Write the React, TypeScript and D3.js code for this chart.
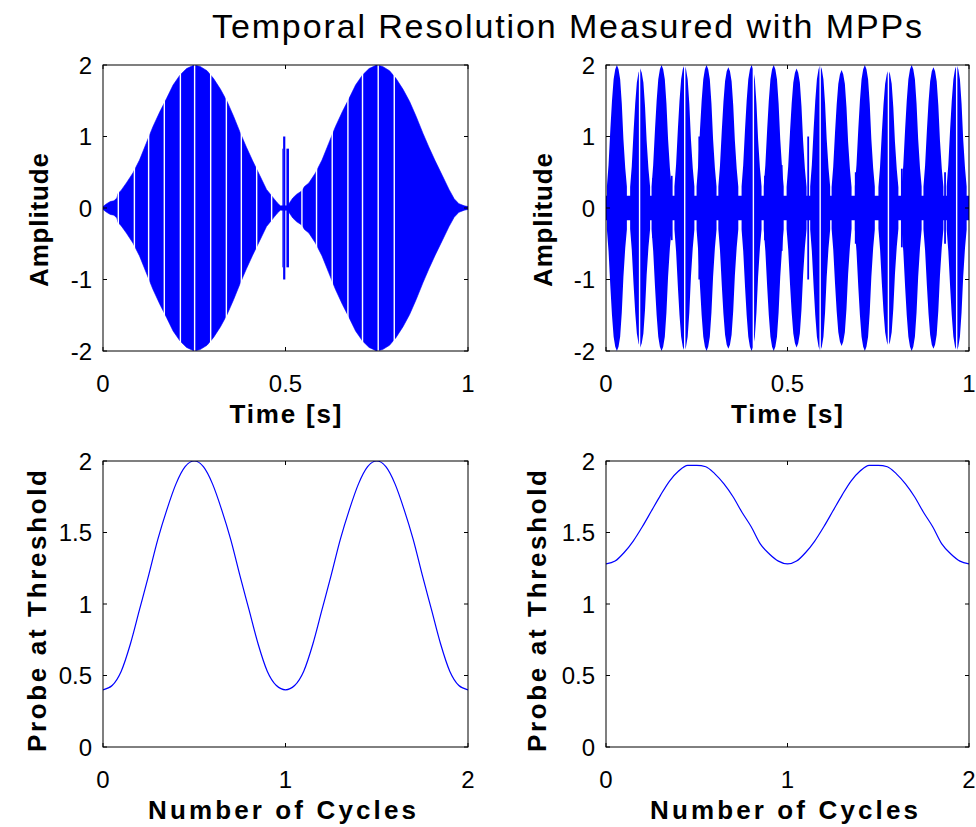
import React from 'react';
import * as d3 from 'd3';

// ---------- Top-left: amplitude envelope ----------
const tlEnvT = [0.000, 0.010, 0.020, 0.030, 0.038, 0.041, 0.050, 0.064, 0.082, 0.100, 0.118, 0.137, 0.156, 0.174, 0.192, 0.211, 0.229, 0.250, 0.266, 0.285, 0.303, 0.322, 0.340, 0.358, 0.377, 0.393, 0.410, 0.430, 0.448, 0.462, 0.470, 0.478, 0.486,
  0.506, 0.512, 0.520, 0.530, 0.545, 0.552, 0.564, 0.582, 0.600, 0.618, 0.637, 0.656, 0.674, 0.692, 0.711, 0.729, 0.750, 0.766, 0.785, 0.803, 0.822, 0.840, 0.858, 0.877, 0.893, 0.910, 0.930, 0.948, 0.962, 0.975, 0.990, 1.000];
const tlEnvA = [0.02, 0.06, 0.09, 0.10, 0.14, 0.20, 0.25, 0.35, 0.49, 0.67, 0.90, 1.14, 1.35, 1.53, 1.72, 1.86, 1.95, 2.00, 1.98, 1.92, 1.81, 1.66, 1.49, 1.28, 1.04, 0.85, 0.66, 0.45, 0.26, 0.17, 0.12, 0.07, 0.03,
  0.03, 0.08, 0.14, 0.19, 0.24, 0.30, 0.35, 0.49, 0.67, 0.90, 1.14, 1.35, 1.53, 1.72, 1.86, 1.95, 2.00, 1.98, 1.92, 1.81, 1.66, 1.49, 1.28, 1.04, 0.85, 0.66, 0.45, 0.26, 0.13, 0.06, 0.03, 0.02];
const tlGapT = [0.042, 0.086, 0.125, 0.168, 0.212, 0.251, 0.295, 0.338, 0.379, 0.421, 0.462, 0.545, 0.585, 0.628, 0.671, 0.711, 0.754, 0.798];
const tlBlipStart = [0.4915, 0.4935, 0.5025];
const tlBlipEnd = [0.4935, 0.4995, 0.5095];
const tlBlipAmp = [0.83, 1.0, 0.83];

// ---------- Top-right: beating signal ----------
const trBurstT = [0.030, 0.094, 0.153, 0.216, 0.277, 0.337, 0.401, 0.462, 0.525, 0.590, 0.649, 0.713, 0.778, 0.842, 0.902, 0.966];
const trBurstPeak = [2.0, 1.95, 2.0, 2.0, 2.0, 1.97, 2.0, 2.0, 1.95, 2.0, 1.93, 2.0, 1.93, 2.0, 1.97, 2.0];
const trProfileDt = [-0.0275, -0.023, -0.018, -0.0135, -0.009, -0.0045, 0, 0.0045, 0.009, 0.0135, 0.018, 0.023, 0.0275];
const trProfileF = [0.15, 0.3, 0.55, 0.75, 0.9, 0.97, 1.0, 0.97, 0.9, 0.73, 0.48, 0.28, 0.15];
const trFloorT = [0, 1];
const trFloorA = [0.17, 0.17];
const trGapT = [0.0925, 0.2168, 0.406, 0.590, 0.778, 0.966];
const trSpikeT = [0.130, 0.181, 0.257, 0.438, 0.484, 0.557, 0.688, 0.815, 0.934];
const trSpikeA = [0.42, 0.45, 1.0, 0.45, 0.6, 1.0, 0.5, 0.55, 0.5];

// ---------- Bottom: probe at threshold vs number of cycles ----------
const cycles = [0, 0.05, 0.1, 0.15, 0.2, 0.25, 0.3, 0.35, 0.4, 0.45, 0.5, 0.55, 0.6, 0.65, 0.7, 0.75, 0.8, 0.85, 0.9, 0.95,
  1, 1.05, 1.1, 1.15, 1.2, 1.25, 1.3, 1.35, 1.4, 1.45, 1.5, 1.55, 1.6, 1.65, 1.7, 1.75, 1.8, 1.85, 1.9, 1.95, 2];
const probeLeft = [0.40, 0.43, 0.53, 0.72, 0.96, 1.20, 1.45, 1.66, 1.84, 1.96, 2.00, 1.96, 1.84, 1.66, 1.45, 1.20, 0.96, 0.72, 0.53, 0.43,
  0.40, 0.43, 0.53, 0.72, 0.96, 1.20, 1.45, 1.66, 1.84, 1.96, 2.00, 1.96, 1.84, 1.66, 1.45, 1.20, 0.96, 0.72, 0.53, 0.43, 0.40];
const probeRight = [1.28, 1.30, 1.36, 1.44, 1.54, 1.65, 1.76, 1.86, 1.93, 1.97, 1.97, 1.96, 1.91, 1.84, 1.75, 1.64, 1.54, 1.42, 1.35, 1.30,
  1.28, 1.30, 1.36, 1.44, 1.54, 1.65, 1.76, 1.86, 1.93, 1.97, 1.97, 1.96, 1.91, 1.84, 1.75, 1.64, 1.54, 1.42, 1.35, 1.30, 1.28];

const topXTicks = [0, 0.5, 1];
const topYTicks = [-2, -1, 0, 1, 2];
const botXTicks = [0, 1, 2];
const botYTicks = [0, 0.5, 1, 1.5, 2];

const TITLE = 'Temporal Resolution Measured with MPPs';
const BLUE = '#0000ff';
const FONT = '"Liberation Sans", Arial, Helvetica, sans-serif';

type Box = { x0: number; x1: number; y0: number; y1: number };

// Text fitted to a measured width
function FitText(props: { x: number; y: number; text: string; size: number; width: number; bold?: boolean; rot?: number }) {
  const { x, y, text, size, width, bold, rot } = props;
  return (
    <text transform={`translate(${x},${y}) rotate(${rot || 0})`} textAnchor="middle" fontSize={size}
      fontWeight={bold ? 'bold' : 'normal'} fontFamily={FONT} textLength={width} lengthAdjust="spacing">{text}</text>
  );
}

function Axes(props: {
  id: string; box: Box; x: d3.ScaleLinear<number, number>; y: d3.ScaleLinear<number, number>;
  xTicks: number[]; yTicks: number[]; xLabel: string; yLabel: string;
  xLabelLen: number; yLabelLen: number; yLabelX: number; yLabelY: number; xLabelX: number;
  children?: React.ReactNode;
}) {
  const { id, box, x, y, xTicks, yTicks } = props;
  const tl = 4;
  return (
    <g>
      <clipPath id={id}>
        <rect x={box.x0} y={box.y0} width={box.x1 - box.x0} height={box.y1 - box.y0} />
      </clipPath>
      <g clipPath={`url(#${id})`}>{props.children}</g>
      <rect x={box.x0} y={box.y0} width={box.x1 - box.x0} height={box.y1 - box.y0} fill="none" stroke="#000" strokeWidth={1} />
      {xTicks.map((t) => (
        <g key={'xt' + t}>
          <line x1={x(t)} x2={x(t)} y1={box.y1} y2={box.y1 - tl} stroke="#000" />
          <line x1={x(t)} x2={x(t)} y1={box.y0} y2={box.y0 + tl} stroke="#000" />
          <text x={x(t)} y={box.y1 + 40.5} textAnchor="middle" fontSize={24} fontFamily={FONT}>{String(t)}</text>
        </g>
      ))}
      {yTicks.map((t) => (
        <g key={'yt' + t}>
          <line x1={box.x0} x2={box.x0 + tl} y1={y(t)} y2={y(t)} stroke="#000" />
          <line x1={box.x1} x2={box.x1 - tl} y1={y(t)} y2={y(t)} stroke="#000" />
          <text x={box.x0 - 11} y={y(t)} dy="0.36em" textAnchor="end" fontSize={24} fontFamily={FONT}>{String(t)}</text>
        </g>
      ))}
      <FitText x={props.xLabelX} y={box.y1 + 72} text={props.xLabel} size={26} width={props.xLabelLen} bold />
      <FitText x={props.yLabelX} y={props.yLabelY} text={props.yLabel} size={26} width={props.yLabelLen} bold rot={-90} />
    </g>
  );
}

export default function App() {
  const tlBox = { x0: 103, x1: 468, y0: 65, y1: 351 };
  const trBox = { x0: 606, x1: 969, y0: 65, y1: 351 };
  const blBox = { x0: 103, x1: 468, y0: 461, y1: 747 };
  const brBox = { x0: 606, x1: 969, y0: 461, y1: 747 };

  const xTL = d3.scaleLinear().domain([0, 1]).range([tlBox.x0, tlBox.x1]);
  const yTL = d3.scaleLinear().domain([-2, 2]).range([tlBox.y1, tlBox.y0]);
  const xTR = d3.scaleLinear().domain([0, 1]).range([trBox.x0, trBox.x1]);
  const yTR = d3.scaleLinear().domain([-2, 2]).range([trBox.y1, trBox.y0]);
  const xBL = d3.scaleLinear().domain([0, 2]).range([blBox.x0, blBox.x1]);
  const yBL = d3.scaleLinear().domain([0, 2]).range([blBox.y1, blBox.y0]);
  const xBR = d3.scaleLinear().domain([0, 2]).range([brBox.x0, brBox.x1]);
  const yBR = d3.scaleLinear().domain([0, 2]).range([brBox.y1, brBox.y0]);

  const envTL = tlEnvT.map((t, i) => ({ t, a: tlEnvA[i] }));
  const areaTL = d3.area<{ t: number; a: number }>().x((d) => xTL(d.t)).y0((d) => yTL(-d.a)).y1((d) => yTL(d.a));
  const areaTR = d3.area<{ t: number; a: number }>().x((d) => xTR(d.t)).y0((d) => yTR(-d.a)).y1((d) => yTR(d.a));
  const floorTR = trFloorT.map((t, i) => ({ t, a: trFloorA[i] }));

  const lineBL = d3.line<number>().x((d, i) => xBL(cycles[i])).y((d) => yBL(d)).curve(d3.curveMonotoneX);
  const lineBR = d3.line<number>().x((d, i) => xBR(cycles[i])).y((d) => yBR(d)).curve(d3.curveMonotoneX);

  return (
    <svg width={976} height={827} style={{ position: 'absolute', left: 0, top: 0, background: '#fff' }}>
      <rect x={0} y={0} width={976} height={827} fill="#fff" />
      <FitText x={567} y={38} text={TITLE} size={34} width={710} />

      <Axes id="c-tl" box={tlBox} x={xTL} y={yTL} xTicks={topXTicks} yTicks={topYTicks} xLabel="Time [s]" yLabel="Amplitude"
        xLabelLen={112} yLabelLen={134} yLabelX={48} yLabelY={220} xLabelX={285.5}>
        <path d={areaTL(envTL) || ''} fill={BLUE} stroke={BLUE} strokeWidth={0.6} />
        {tlBlipStart.map((s, i) => (
          <rect key={'b' + i} x={xTL(s)} width={xTL(tlBlipEnd[i]) - xTL(s)} y={yTL(tlBlipAmp[i])}
            height={yTL(-tlBlipAmp[i]) - yTL(tlBlipAmp[i])} fill={BLUE} />
        ))}
        {tlGapT.map((g) => (
          <line key={'g' + g} x1={xTL(g)} x2={xTL(g)} y1={tlBox.y0} y2={tlBox.y1} stroke="#fff" strokeWidth={1.4} />
        ))}
      </Axes>

      <Axes id="c-tr" box={trBox} x={xTR} y={yTR} xTicks={topXTicks} yTicks={topYTicks} xLabel="Time [s]" yLabel="Amplitude"
        xLabelLen={112} yLabelLen={134} yLabelX={552} yLabelY={220} xLabelX={787}>
        <path d={areaTR(floorTR) || ''} fill={BLUE} />
        {trBurstT.map((c, k) => (
          <path key={'bu' + k} d={areaTR(trProfileDt.map((dt, j) => ({ t: c + dt, a: trProfileF[j] * trBurstPeak[k] }))) || ''}
            fill={BLUE} />
        ))}
        {trSpikeT.map((s, i) => (
          <line key={'s' + i} x1={xTR(s)} x2={xTR(s)} y1={yTR(trSpikeA[i])} y2={yTR(-trSpikeA[i])} stroke={BLUE} strokeWidth={1.8} />
        ))}
        {trGapT.map((g) => (
          <line key={'g' + g} x1={xTR(g)} x2={xTR(g)} y1={trBox.y0} y2={trBox.y1} stroke="#fff" strokeWidth={1.4} />
        ))}
      </Axes>

      <Axes id="c-bl" box={blBox} x={xBL} y={yBL} xTicks={botXTicks} yTicks={botYTicks} xLabel="Number of Cycles" yLabel="Probe at Threshold"
        xLabelLen={268} yLabelLen={282} yLabelX={46} yLabelY={611} xLabelX={282}>
        <path d={lineBL(probeLeft) || ''} fill="none" stroke={BLUE} strokeWidth={1.2} />
      </Axes>

      <Axes id="c-br" box={brBox} x={xBR} y={yBR} xTicks={botXTicks} yTicks={botYTicks} xLabel="Number of Cycles" yLabel="Probe at Threshold"
        xLabelLen={268} yLabelLen={282} yLabelX={546} yLabelY={611} xLabelX={784}>
        <path d={lineBR(probeRight) || ''} fill="none" stroke={BLUE} strokeWidth={1.2} />
      </Axes>
    </svg>
  );
}
